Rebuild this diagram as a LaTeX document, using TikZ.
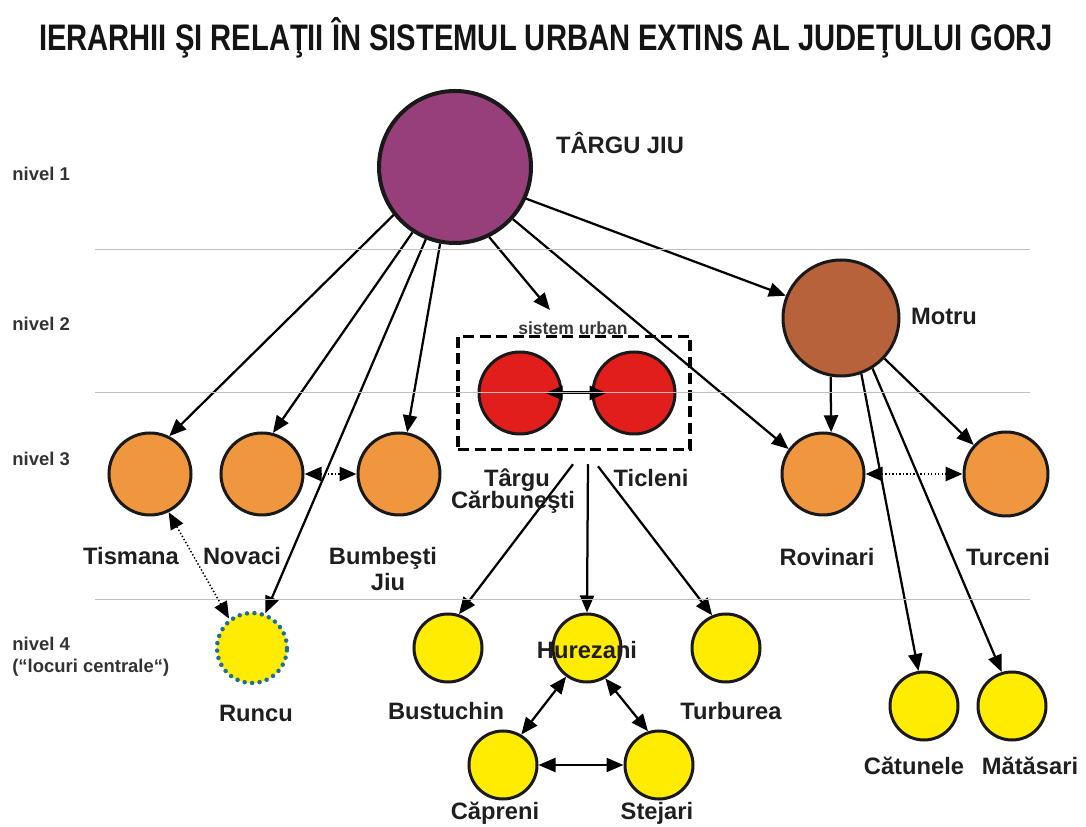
\documentclass[tikz,border=0pt]{standalone}
\usepackage{fontspec}
\setmainfont{Liberation Sans}
\usetikzlibrary{arrows.meta,calc}
\definecolor{tjpurple}{RGB}{150,63,122}
\definecolor{motrubrown}{RGB}{183,98,58}
\definecolor{orangethree}{RGB}{240,150,62}
\definecolor{redtwo}{RGB}{226,30,28}
\definecolor{yellowfour}{RGB}{255,236,0}
\definecolor{runcublue}{RGB}{30,110,150}
\tikzset{
	city/.style={circle, draw=black!90, line width=0.6mm, inner sep=0pt},
	lbl/.style={font=\fontsize{13.5}{15}\selectfont\bfseries, text=black!88, text height=1.38ex, text depth=0pt, inner sep=0pt},
	nivel/.style={font=\fontsize{10.5}{12.5}\selectfont\bfseries, text=black!80, anchor=west, align=left, inner sep=0pt},
	arr/.style={line width=0.45mm, -{Triangle[length=3.4mm,width=2.8mm]}},
	biarr/.style={line width=0.45mm, {Triangle[length=3.4mm,width=2.8mm]}-{Triangle[length=3.4mm,width=2.8mm]}},
	dotarr/.style={line width=0.55mm, dash pattern=on 0.8pt off 1.2pt, {Triangle[length=3.4mm,width=2.8mm]}-{Triangle[length=3.4mm,width=2.8mm]}},
	levelline/.style={line width=0.2mm, color=black!25}
}
\begin{document}
\begin{tikzpicture}[x=0.2mm, y=-0.2mm]
			%%%%% START %%%%%
			\useasboundingbox (0,0) rectangle (1086,827);
			
			\node[font=\fontsize{21}{23}\selectfont\bfseries, text=black!92] (title) at (546,38) {\scalebox{0.79}[1]{IERARHII ŞI RELAŢII ÎN SISTEMUL URBAN EXTINS AL JUDEŢULUI GORJ}};
			
			\node[nivel] (niv1) at (12,174) {nivel 1};
			\node[nivel] (niv2) at (12,324) {nivel 2};
			\node[nivel] (niv3) at (12,459) {nivel 3};
			\node[nivel] (niv4) at (12,657) {nivel 4\\(“locuri centrale“)};
			
			% nivel 1 and 2
			\node[city, fill=tjpurple, line width=0.8mm, minimum size=30.4mm] (tj) at (455,167) {};
			\node[city, fill=motrubrown, minimum size=23.2mm] (motru) at (841,318) {};
			\node[rectangle, draw=black, line width=0.7mm, dash pattern=on 2.2mm off 1.1mm, minimum width=46.4mm, minimum height=22.6mm] (sys) at (574,393) {};
			\node[city, fill=redtwo, minimum size=16.4mm] (tc) at (520,393) {};
			\node[city, fill=redtwo, minimum size=16.4mm] (tic) at (634,393) {};
			\coordinate (sutip) at (550,310);
			
			% nivel 3
			\node[city, fill=orangethree, minimum size=16.4mm] (tis) at (150,474) {};
			\node[city, fill=orangethree, minimum size=16.4mm] (nov) at (262,474) {};
			\node[city, fill=orangethree, minimum size=16.4mm] (bum) at (399,474) {};
			\node[city, fill=orangethree, minimum size=16.4mm] (rov) at (823,474) {};
			\node[city, fill=orangethree, minimum size=16.8mm] (tur) at (1006,474) {};
			
			% nivel 4
			\node[city, fill=yellowfour, draw=runcublue, line width=0.9mm, dash pattern=on 0pt off 1.5mm, line cap=round, minimum size=14mm] (runcu) at (252,648) {};
			\node[city, fill=yellowfour, minimum size=13.6mm] (bus) at (448,648) {};
			\node[city, fill=yellowfour, minimum size=13.6mm] (hur) at (587,648) {};
			\node[city, fill=yellowfour, minimum size=13.6mm] (tbr) at (726,648) {};
			\node[city, fill=yellowfour, minimum size=13.6mm] (cap) at (503,765) {};
			\node[city, fill=yellowfour, minimum size=13.6mm] (ste) at (659,765) {};
			\node[city, fill=yellowfour, minimum size=13.6mm] (cat) at (924,706) {};
			\node[city, fill=yellowfour, minimum size=13.6mm] (mat) at (1012,706) {};
			
			% arrows from Targu Jiu
			\draw[arr] (tj.218) -- (tis.63);
			\draw[arr] (tj.237) -- (nov.75);
			\draw[arr] (tj.248) -- (runcu.69);
			\draw[arr] (tj.259) -- (bum.79);
			\draw[arr] (tj.296) -- (sutip);
			\draw[arr] (tj.318) -- (rov.144);
			\draw[arr] (tj.336) -- (motru.158);
			
			% arrows from Motru
			\draw[arr] (motru.260) -- (rov.79);
			\draw[arr] (motru.317) -- (tur.138);
			\draw[arr] (motru.290) -- (cat.99);
			\draw[arr] (motru.302) -- (mat.107);
			
			% arrows from the urban system
			\draw[biarr, line width=0.6mm, shorten <=-3.4mm, shorten >=-3mm] (tc.east) -- (tic.west);
			\draw[arr] ([shift={(-1,13)}]sys.south) -- (bus.72);
			\draw[arr] ([shift={(14,13)}]sys.south) -- (hur.90);
			\draw[arr] ([shift={(24,15)}]sys.south) -- (tbr.113);
			
			\draw[biarr] (hur.234) -- (cap.59);
			\draw[biarr] (hur.301) -- (ste.108);
			\draw[biarr] (cap.east) -- (ste.west);
			
			\draw[dotarr] (nov.east) -- (bum.west);
			\draw[dotarr] (rov.east) -- (tur.west);
			\draw[dotarr, line width=0.3mm] (tis.296) -- (runcu.128);
			
			% labels
			\node[lbl] (ltj) at (620,147) {TÂRGU JIU};
			\node[lbl] (lmotru) at (944,318) {Motru};
			\node[font=\fontsize{10}{12}\selectfont\bfseries, text=black!78] (lsys) at (573,328) {sistem urban};
			\node[lbl] (ltc) at (517,480) {Târgu};
			\node[lbl] (ltc2) at (513,502) {Cărbuneşti};
			\node[lbl] (ltic) at (651,480) {Ticleni};
			\node[lbl] (ltis) at (131,558) {Tismana};
			\node[lbl] (lnov) at (242,558) {Novaci};
			\node[lbl] (lbum) at (383,558) {Bumbeşti};
			\node[lbl] (lbum2) at (388,584) {Jiu};
			\node[lbl] (lrov) at (827,559) {Rovinari};
			\node[lbl] (ltur) at (1008,559) {Turceni};
			\node[lbl] (lruncu) at (256,715) {Runcu};
			\node[lbl] (lbus) at (446,713) {Bustuchin};
			\node[lbl] (lhur) at (587,652) {Hurezani};
			\node[lbl] (ltbr) at (731,713) {Turburea};
			\node[lbl] (lcap) at (495,813) {Căpreni};
			\node[lbl] (lste) at (657,813) {Stejari};
			\node[lbl] (lcat) at (914,768) {Cătunele};
			\node[lbl] (lmat) at (1030,768) {Mătăsari};
			
			% level separators, drawn over the circles
			\foreach \y in {250,393,600}
				\draw[levelline] (95,\y) -- (1030,\y);
			%%%%% END %%%%%
\end{tikzpicture}
\end{document}
